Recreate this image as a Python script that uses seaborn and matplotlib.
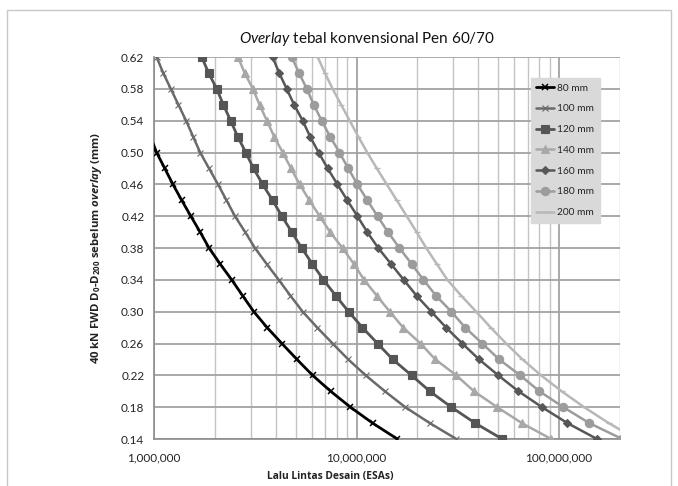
import numpy as np
import pandas as pd
import matplotlib
matplotlib.use("Agg")
import matplotlib.pyplot as plt
import matplotlib.ticker as mticker
from matplotlib.patches import Rectangle
import seaborn as sns

# ---------------- data (ESA in millions) ----------------
labels = ["80 mm", "100 mm", "120 mm", "140 mm", "160 mm", "180 mm", "200 mm"]

y_80 = [0.52, 0.50, 0.48, 0.46, 0.44, 0.42, 0.40, 0.38, 0.36, 0.34, 0.32, 0.30,
        0.28, 0.26, 0.24, 0.22, 0.20, 0.18, 0.16, 0.14]
x_80 = [0.96, 1.03, 1.13, 1.24, 1.37, 1.52, 1.69, 1.87, 2.12, 2.42, 2.74, 3.11,
        3.62, 4.28, 5.08, 6.07, 7.45, 9.33, 12.0, 15.9]

y_full = [0.62, 0.60, 0.58, 0.56, 0.54, 0.52, 0.50, 0.48, 0.46, 0.44, 0.42, 0.40,
          0.38, 0.36, 0.34, 0.32, 0.30, 0.28, 0.26, 0.24, 0.22, 0.20, 0.18, 0.16, 0.14]
x_100 = [1.03, 1.11, 1.21, 1.32, 1.44, 1.56, 1.69, 1.87, 2.07, 2.28, 2.51, 2.82,
         3.15, 3.60, 4.13, 4.72, 5.42, 6.40, 7.62, 9.1, 11.1, 13.8, 17.4, 23.0, 31.1]
x_120 = [1.72, 1.86, 2.04, 2.20, 2.39, 2.59, 2.84, 3.10, 3.44, 3.85, 4.28, 4.79,
         5.36, 6.05, 6.87, 7.90, 9.14, 10.7, 12.7, 15.1, 18.7, 23.0, 29.4, 38.5, 52.4]
x_140 = [2.60, 2.80, 3.08, 3.32, 3.61, 3.92, 4.32, 4.75, 5.24, 5.85, 6.58, 7.40,
         8.53, 9.70, 10.9, 12.6, 14.6, 17.0, 20.7, 24.5, 31.1, 38.0, 49.5, 65.5, 91.4]
x_160 = [3.85, 4.15, 4.52, 4.92, 5.42, 5.90, 6.50, 7.20, 8.05, 9.0, 10.1, 11.3,
         12.8, 14.8, 17.1, 19.8, 23.4, 27.7, 33.3, 40.3, 50.1, 63.0, 82.4, 110, 154]
x_180 = [4.79, 5.20, 5.68, 6.15, 6.73, 7.40, 8.24, 9.10, 10.1, 11.3, 12.7, 14.3,
         16.3, 18.7, 21.4, 24.7, 29.4, 34.4, 41.8, 50.6, 64.3, 80.0, 105, 141, 205]
x_200 = [6.43, 6.98, 7.62, 8.40, 9.25, 10.2, 11.3, 12.6, 14.1, 15.8, 17.7, 19.8,
         22.1, 24.9, 28.1, 32.9, 39.0, 46.0, 54.8, 66.0, 81.5, 103, 133, 176, 240]

x_ticks = [1e6, 1e7, 1e8]
x_ticklabels = ["1,000,000", "10,000,000", "100,000,000"]
y_ticks = [0.14, 0.18, 0.22, 0.26, 0.30, 0.34, 0.38, 0.42, 0.46, 0.50, 0.54, 0.58, 0.62]

series = [
    (labels[0], x_80, y_80),
    (labels[1], x_100, y_full),
    (labels[2], x_120, y_full),
    (labels[3], x_140, y_full),
    (labels[4], x_160, y_full),
    (labels[5], x_180, y_full),
    (labels[6], x_200, y_full),
]
frames = []
for lab, xs, ys in series:
    frames.append(pd.DataFrame({"esa": np.array(xs) * 1e6, "d": ys, "tebal": lab}))
df = pd.concat(frames, ignore_index=True)

# ---------------- style ----------------
sns.set_theme(style="white")
plt.rcParams["font.family"] = ["Lato", "DejaVu Sans"]
plt.rcParams["mathtext.fontset"] = "custom"
plt.rcParams["mathtext.rm"] = "Open Sans:bold"
plt.rcParams["mathtext.it"] = "Open Sans:italic:bold"
plt.rcParams["mathtext.bf"] = "Open Sans:bold"
plt.rcParams["mathtext.cal"] = "Lato:italic"

styles = {
    "80 mm":  dict(color="#000000", marker="x", ms=4.5, lw=2.0, mew=1.1),
    "100 mm": dict(color="#6a6a6a", marker="x", ms=4.0, lw=1.8, mew=0.8),
    "120 mm": dict(color="#555555", marker="s", ms=5.5, lw=2.0, mew=0.8),
    "140 mm": dict(color="#a8a8a8", marker="^", ms=5.5, lw=1.8, mew=0.8),
    "160 mm": dict(color="#575757", marker="D", ms=3.6, lw=1.8, mew=0.8),
    "180 mm": dict(color="#9c9c9c", marker="o", ms=6.0, lw=1.8, mew=0.8),
    "200 mm": dict(color="#b8b8b8", marker="_", ms=5.0, lw=1.8, mew=1.0),
}

fig = plt.figure(figsize=(6.78, 4.86), dpi=100)
ax = fig.add_axes([154 / 678, 1 - 439 / 486, (620 - 154) / 678, (439 - 57) / 486])

for lab in labels:
    s = styles[lab]
    sub = df[df["tebal"] == lab]
    sns.lineplot(data=sub, x="esa", y="d", ax=ax, sort=False, estimator=None,
                 color=s["color"], linewidth=s["lw"], marker=s["marker"],
                 markersize=s["ms"], markeredgewidth=s["mew"],
                 markeredgecolor=s["color"], markerfacecolor=s["color"],
                 label=lab, zorder=3)

ax.set_xscale("log")
ax.set_xlim(1e6, 2e8)
ax.set_ylim(0.14, 0.62)
ax.set_xticks(x_ticks)
ax.set_xticklabels(x_ticklabels)
ax.xaxis.set_minor_locator(mticker.LogLocator(base=10, subs=np.arange(2, 10)))
ax.xaxis.set_minor_formatter(mticker.NullFormatter())
ax.set_yticks(y_ticks)
ax.yaxis.set_major_formatter(mticker.FormatStrFormatter("%.2f"))

ax.grid(True, which="major", axis="both", color="#a3a3a3", linewidth=1.3, zorder=0)
ax.grid(True, which="minor", axis="x", color="#c4c4c4", linewidth=1.0, zorder=0)
ax.set_axisbelow(True)

for sp in ["top", "right"]:
    ax.spines[sp].set_visible(False)
for sp in ["left", "bottom"]:
    ax.spines[sp].set_color("#8c8c8c")
    ax.spines[sp].set_linewidth(1.2)

ax.tick_params(axis="both", which="major", direction="out", length=4, width=1,
               color="#8c8c8c", labelsize=8.5, labelcolor="#222222", pad=3)
ax.tick_params(axis="x", which="minor", length=0)
ax.tick_params(axis="x", which="major", length=4, pad=6)

ax.set_xlabel("Lalu Lintas Desain (ESAs)", fontsize=7.4, fontweight="bold",
              family="Open Sans", color="#222222")
ax.xaxis.set_label_coords((330 - 154) / 466, -0.085)
ax.set_ylabel(r"40 kN FWD D$_\mathrm{0}$-D$_\mathrm{200}$ sebelum $\mathit{overlay}$ (mm)",
              fontsize=8.2, fontweight="bold", family="Open Sans", color="#222222")
ax.yaxis.set_label_coords(-0.108, 0.5)
ax.set_title(r"$\mathcal{Overlay}$ tebal konvensional Pen 60/70", fontsize=11,
             color="#111111", pad=10, x=(367 - 154) / 466)

leg = ax.legend(loc="upper left", bbox_to_anchor=(0.808, 0.945), fontsize=7.3,
                frameon=True, facecolor="#d9d9d9", edgecolor="#d9d9d9",
                framealpha=1, fancybox=False, handlelength=1.8, handletextpad=0.3,
                labelspacing=1.15, borderpad=0.55, borderaxespad=0)
for t in leg.get_texts():
    t.set_color("#222222")

# outer chart border
fig.patches.append(Rectangle((7 / 678, -0.02), (671 - 7) / 678, 1 - 10 / 486 + 0.02,
                             transform=fig.transFigure, fill=False,
                             edgecolor="#c8c8c8", linewidth=1.0))

fig.savefig("out.png", dpi=100)
